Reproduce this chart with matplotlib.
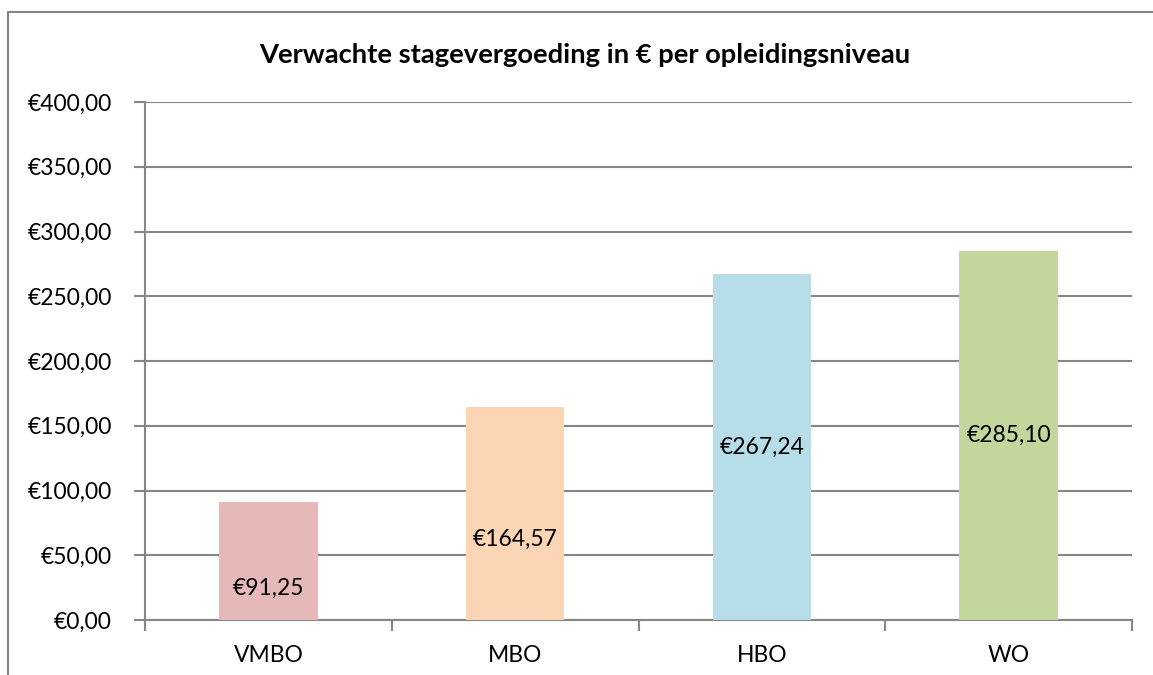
import matplotlib.pyplot as plt
from matplotlib.patches import Rectangle

categories = ["VMBO", "MBO", "HBO", "WO"]
values = [91.25, 164.57, 267.24, 285.10]
value_labels = ["€91,25", "€164,57", "€267,24", "€285,10"]
colors = ["#E6B9B8", "#FCD5B5", "#B7DEE8", "#C3D69B"]
yticks = [0, 50, 100, 150, 200, 250, 300, 350, 400]
# where Excel put the labels inside the bars (fraction of bar height)
label_frac = [0.27, 0.38, 0.5, 0.5]

plt.rcParams['font.family'] = ['Lato', 'DejaVu Sans']

fig = plt.figure(figsize=(11.53, 6.75), dpi=100)
ax = fig.add_axes([145 / 1153, 1 - 620 / 675, (1132 - 145) / 1153, (620 - 102) / 675])

# chart frame
fig.patches.append(Rectangle((8 / 1153, -0.1), 1.2, 1 - 12 / 675 + 0.1,
                             transform=fig.transFigure, fill=False,
                             edgecolor="#868686", linewidth=1.5))

x = range(len(categories))
ax.bar(x, values, width=0.4, color=colors, zorder=3)
for i, v in enumerate(values):
    ax.text(i, v * label_frac[i], value_labels[i], ha="center", va="center",
            fontsize=16.5, zorder=4)

ax.set_xlim(-0.5, len(categories) - 0.5)
ax.set_ylim(0, 400)
ax.set_yticks(yticks)
ax.set_yticklabels(["€%d,00" % t for t in yticks], fontsize=16.5)
ax.yaxis.grid(True, color="#868686", linewidth=1.5, zorder=0)
ax.set_axisbelow(True)

ax.set_xticks(x)
ax.set_xticklabels(categories, fontsize=16.5)
ax.tick_params(axis="x", length=0, pad=18)
ax.set_xticks([i - 0.5 for i in range(len(categories) + 1)], minor=True)
ax.tick_params(axis="x", which="minor", length=8, width=1.5, color="#868686")
ax.tick_params(axis="y", length=8, width=1.5, color="#868686", pad=16)

for s in ["top", "right"]:
    ax.spines[s].set_visible(False)
for s in ["left", "bottom"]:
    ax.spines[s].set_color("#868686")
    ax.spines[s].set_linewidth(1.5)

fig.text(585 / 1153, 1 - 55 / 675, "Verwachte stagevergoeding in € per opleidingsniveau",
         ha="center", va="center", fontsize=19.7, fontweight="bold")

fig.savefig("out.png", dpi=100)
